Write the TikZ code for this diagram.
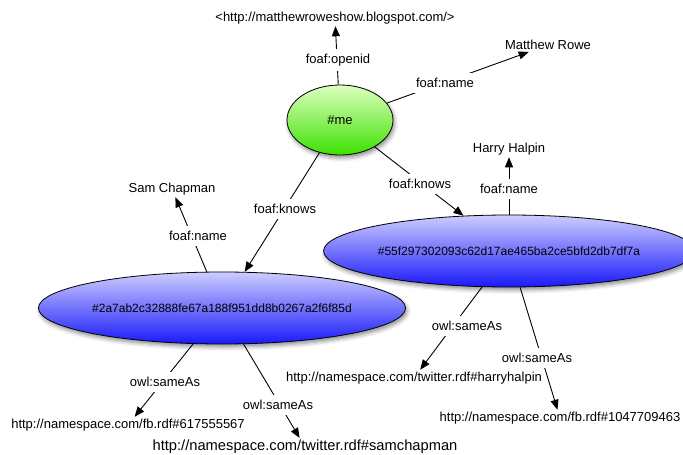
\documentclass[tikz,border=0pt]{standalone}
\usepackage{fontspec}
\setmainfont{Liberation Sans}
\usetikzlibrary{arrows.meta,shapes.geometric,shadows.blur}
\definecolor{gtop}{RGB}{222,255,192}
\definecolor{gbot}{RGB}{60,225,0}
\definecolor{btop}{RGB}{205,205,255}
\definecolor{bbot}{RGB}{25,25,250}
\begin{document}
\begin{tikzpicture}[x=1pt,y=-1pt,
  every node/.style={font=\fontsize{13}{15}\selectfont},
  res/.style={ellipse, draw=black, line width=0.8pt, inner sep=0pt,
    blur shadow={shadow xshift=1.5pt, shadow yshift=-3pt, shadow blur radius=4pt, shadow opacity=45}},
  greenres/.style={res, top color=gtop, bottom color=gbot},
  blueres/.style={res, top color=btop, bottom color=bbot, font=\fontsize{12}{14}\selectfont},
  lit/.style={inner sep=2pt},
  prop/.style={fill=white, inner sep=5pt},
  conn/.style={line width=0.9pt, -{Triangle[length=10pt,width=8pt]}}]
\useasboundingbox (0,0) rectangle (683,455);

% resources
\node[greenres, minimum width=106pt, minimum height=70pt] (me) at (340,120) {\#me};
\node[blueres, minimum width=350pt, minimum height=72pt] (sc) at (222,308) {\#2a7ab2c32888fe67a188f951dd8b0267a2f6f85d};
\node[blueres, minimum width=348pt, minimum height=72pt] (hh) at (509,251) {\#55f297302093c62d17ae465ba2ce5bfd2db7df7a};

% literals / targets
\node[lit] (url) at (335,18) {<http://matthewroweshow.blogspot.com/>};
\node[lit] (mrowe) at (548,45) {Matthew Rowe};
\node[lit] (sam) at (172,189) {Sam Chapman};
\node[lit] (harry) at (509,149) {Harry Halpin};
\node[lit] (fb1) at (128,425) {http://namespace.com/fb.rdf\#617555567};
\node[lit, font=\fontsize{14.7}{17}\selectfont] (tw1) at (305,447) {http://namespace.com/twitter.rdf\#samchapman};
\node[lit] (tw2) at (414,378) {http://namespace.com/twitter.rdf\#harryhalpin};
\node[lit] (fb2) at (560,418) {http://namespace.com/fb.rdf\#1047709463};

% connectors
\draw[conn] (me) -- (url);
\draw[conn] (me) -- (mrowe);
\draw[conn] (me) -- (sc);
\draw[conn] (me) -- (hh);
\draw[conn] (sc) -- (sam);
\draw[conn] (sc) -- (fb1);
\draw[conn] (sc) -- (tw1);
\draw[conn] (hh) -- (harry);
\draw[conn] (hh) -- (tw2);
\draw[conn] (hh) -- (fb2);

% property labels
\node[prop] (p1) at (338,60) {foaf:openid};
\node[prop] (p2) at (445,83) {foaf:name};
\node[prop] (p3) at (285,209) {foaf:knows};
\node[prop] (p4) at (420,184) {foaf:knows};
\node[prop] (p5) at (198,236) {foaf:name};
\node[prop] (p6) at (165,382) {owl:sameAs};
\node[prop] (p7) at (278,405) {owl:sameAs};
\node[prop] (p8) at (509,189) {foaf:name};
\node[prop] (p9) at (467,326) {owl:sameAs};
\node[prop] (p10) at (537,358) {owl:sameAs};
\end{tikzpicture}
\end{document}
